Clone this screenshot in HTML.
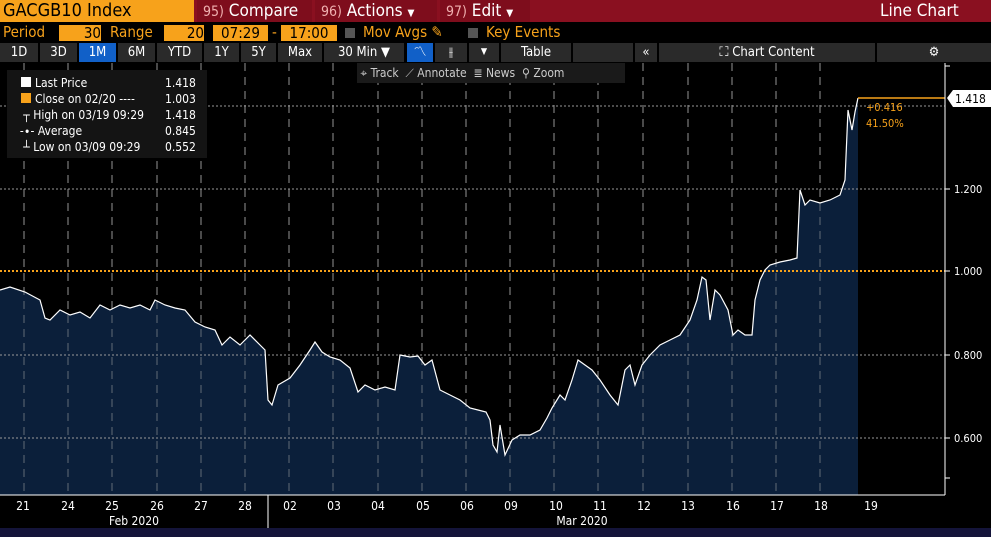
<!DOCTYPE html>
<html><head><meta charset="utf-8"><style>
body{margin:0;background:#000;width:991px;height:537px;overflow:hidden;font-family:"DejaVu Sans Condensed","Liberation Sans",sans-serif;position:relative}
.a{position:absolute;white-space:nowrap}
.r1{top:0;height:22px;background:#8a1020;left:0;width:991px}
.bt{top:0;height:22px;background:#7e0d1c;color:#fff;font-size:17px;line-height:22px}
.bt b{font-weight:normal;color:#f0b0b0;font-size:14px}
.o{background:#f7a21b;color:#000}
.tb{top:43px;height:19px;background:#2a2a2a;color:#fff;font-size:13px;line-height:19px;text-align:center}
.lg{color:#fff;font-size:12px}
</style></head><body>
<div class="a r1"></div>
<div class="a o" style="left:0;top:0;width:194px;height:22px;font-size:18px;line-height:22px;padding-left:3px;box-sizing:border-box">GACGB10 Index</div>
<div class="a bt" style="left:197px;width:115px;padding-left:6px;box-sizing:border-box"><b>95)</b> Compare</div>
<div class="a bt" style="left:315px;width:122px;padding-left:6px;box-sizing:border-box"><b>96)</b> Actions <span style="font-size:10px">▼</span></div>
<div class="a bt" style="left:440px;width:90px;padding-left:6px;box-sizing:border-box"><b>97)</b> Edit <span style="font-size:10px">▼</span></div>
<div class="a" style="left:880px;top:0;color:#fff;font-size:17px;line-height:22px">Line Chart</div>
<div class="a" style="top:23px;left:3px;color:#f7a21b;font-size:15px;line-height:19px">Period</div>
<div class="a o" style="top:25px;left:59px;width:42px;height:16px;font-size:15px;line-height:16px;text-align:right">30</div>
<div class="a" style="top:23px;left:110px;color:#f7a21b;font-size:15px;line-height:19px">Range</div>
<div class="a o" style="top:25px;left:164px;width:40px;height:16px;font-size:15px;line-height:16px;text-align:right">20</div>
<div class="a o" style="top:25px;left:213px;width:55px;height:16px;font-size:15px;line-height:16px;text-align:center">07:29</div>
<div class="a" style="top:23px;left:272px;color:#f7a21b;font-size:15px">-</div>
<div class="a o" style="top:25px;left:281px;width:56px;height:16px;font-size:15px;line-height:16px;text-align:center">17:00</div>
<div class="a" style="top:28px;left:345px;width:10px;height:10px;background:#555"></div>
<div class="a" style="top:23px;left:363px;color:#f7a21b;font-size:15px;line-height:19px">Mov Avgs ✎</div>
<div class="a" style="top:28px;left:468px;width:10px;height:10px;background:#555"></div>
<div class="a" style="top:23px;left:486px;color:#f7a21b;font-size:15px;line-height:19px">Key Events</div>
<div class="a tb" style="left:0;width:38px">1D</div>
<div class="a tb" style="left:40px;width:37px">3D</div>
<div class="a tb" style="left:79px;width:37px;background:#1160c8">1M</div>
<div class="a tb" style="left:118px;width:37px">6M</div>
<div class="a tb" style="left:157px;width:45px">YTD</div>
<div class="a tb" style="left:204px;width:35px">1Y</div>
<div class="a tb" style="left:241px;width:35px">5Y</div>
<div class="a tb" style="left:278px;width:44px">Max</div>
<div class="a tb" style="left:324px;width:80px">30 Min ▼</div>
<div class="a tb" style="left:407px;width:26px;background:#1160c8">〽</div>
<div class="a tb" style="left:435px;width:32px">⫲</div>
<div class="a tb" style="left:469px;width:30px;font-size:9px">▼</div>
<div class="a tb" style="left:501px;width:70px">Table</div>
<div class="a tb" style="left:573px;width:60px"></div>
<div class="a tb" style="left:635px;width:22px">«</div>
<div class="a tb" style="left:659px;width:216px">⛶ Chart Content</div>
<div class="a tb" style="left:877px;width:114px">⚙</div>
<svg class="a" style="left:0;top:63px" width="991" height="474">
<g stroke="#aaa" stroke-dasharray="8,6" stroke-width="1" opacity=".7">
<line x1="24" y1="0" x2="24" y2="432"/><line x1="68" y1="0" x2="68" y2="432"/><line x1="112" y1="0" x2="112" y2="432"/><line x1="157" y1="0" x2="157" y2="432"/><line x1="201" y1="0" x2="201" y2="432"/><line x1="245" y1="0" x2="245" y2="432"/><line x1="289" y1="0" x2="289" y2="432"/><line x1="333" y1="0" x2="333" y2="432"/><line x1="378" y1="0" x2="378" y2="432"/><line x1="422" y1="0" x2="422" y2="432"/><line x1="466" y1="0" x2="466" y2="432"/><line x1="510" y1="0" x2="510" y2="432"/><line x1="554" y1="0" x2="554" y2="432"/><line x1="598" y1="0" x2="598" y2="432"/><line x1="643" y1="0" x2="643" y2="432"/><line x1="688" y1="0" x2="688" y2="432"/><line x1="732" y1="0" x2="732" y2="432"/><line x1="776" y1="0" x2="776" y2="432"/><line x1="820" y1="0" x2="820" y2="432"/>
</g>
<g transform="translate(0,-63)">
<polygon fill="#0b1f3a" points="0,495 0,290 10,287 25,292 40,300 45,318 50,320 60,310 70,315 80,312 90,318 100,305 110,310 120,305 130,308 140,305 150,310 155,300 165,305 175,308 185,310 195,322 205,327 215,330 222,345 230,337 240,345 250,335 260,345 265,350 268,400 272,405 278,385 290,378 300,365 310,350 315,342 322,352 330,357 340,360 350,368 358,392 365,385 375,390 385,387 395,390 400,355 410,357 418,356 425,365 432,360 440,390 450,395 460,400 470,408 478,410 486,412 490,420 493,445 497,452 500,425 505,455 512,440 520,435 530,435 540,430 547,418 552,408 560,395 565,400 572,380 578,360 585,365 592,370 600,380 610,395 618,405 622,385 625,370 630,365 635,385 642,365 650,355 660,345 670,340 680,335 690,320 697,300 702,277 706,280 710,320 715,290 720,295 728,310 733,335 738,330 745,335 752,335 755,300 760,280 765,270 770,265 780,262 790,260 797,258 800,190 805,205 810,200 820,203 830,200 840,195 845,180 848,110 852,130 855,112 858,98 858,495"/>
<g stroke="#aaa" stroke-dasharray="8,6" opacity=".55"><line x1="24" y1="63" x2="24" y2="495"/><line x1="68" y1="63" x2="68" y2="495"/><line x1="112" y1="63" x2="112" y2="495"/><line x1="157" y1="63" x2="157" y2="495"/><line x1="201" y1="63" x2="201" y2="495"/><line x1="245" y1="63" x2="245" y2="495"/><line x1="289" y1="63" x2="289" y2="495"/><line x1="333" y1="63" x2="333" y2="495"/><line x1="378" y1="63" x2="378" y2="495"/><line x1="422" y1="63" x2="422" y2="495"/><line x1="466" y1="63" x2="466" y2="495"/><line x1="510" y1="63" x2="510" y2="495"/><line x1="554" y1="63" x2="554" y2="495"/><line x1="598" y1="63" x2="598" y2="495"/><line x1="643" y1="63" x2="643" y2="495"/><line x1="688" y1="63" x2="688" y2="495"/><line x1="732" y1="63" x2="732" y2="495"/><line x1="776" y1="63" x2="776" y2="495"/><line x1="820" y1="63" x2="820" y2="495"/></g>
<g stroke="#999" stroke-dasharray="2,2"><line x1="0" y1="106" x2="945" y2="106"/><line x1="0" y1="189" x2="945" y2="189"/><line x1="0" y1="355" x2="945" y2="355"/><line x1="0" y1="438" x2="945" y2="438"/></g>
<line x1="0" y1="271" x2="945" y2="271" stroke="#f7a21b" stroke-width="2" stroke-dasharray="2,2"/>
<polyline fill="none" stroke="#fff" stroke-width="1.2" points="0,290 10,287 25,292 40,300 45,318 50,320 60,310 70,315 80,312 90,318 100,305 110,310 120,305 130,308 140,305 150,310 155,300 165,305 175,308 185,310 195,322 205,327 215,330 222,345 230,337 240,345 250,335 260,345 265,350 268,400 272,405 278,385 290,378 300,365 310,350 315,342 322,352 330,357 340,360 350,368 358,392 365,385 375,390 385,387 395,390 400,355 410,357 418,356 425,365 432,360 440,390 450,395 460,400 470,408 478,410 486,412 490,420 493,445 497,452 500,425 505,455 512,440 520,435 530,435 540,430 547,418 552,408 560,395 565,400 572,380 578,360 585,365 592,370 600,380 610,395 618,405 622,385 625,370 630,365 635,385 642,365 650,355 660,345 670,340 680,335 690,320 697,300 702,277 706,280 710,320 715,290 720,295 728,310 733,335 738,330 745,335 752,335 755,300 760,280 765,270 770,265 780,262 790,260 797,258 800,190 805,205 810,200 820,203 830,200 840,195 845,180 848,110 852,130 855,112 858,98"/>
<line x1="858" y1="98" x2="945" y2="98" stroke="#f7a21b" stroke-width="1.5"/>
<line x1="945" y1="63" x2="945" y2="495" stroke="#fff"/>
<line x1="0" y1="495" x2="945" y2="495" stroke="#fff"/>
<line x1="268" y1="495" x2="268" y2="528" stroke="#fff"/>
<g stroke="#fff"><line x1="945" y1="189" x2="950" y2="189"/><line x1="945" y1="271" x2="950" y2="271"/><line x1="945" y1="355" x2="950" y2="355"/><line x1="945" y1="438" x2="950" y2="438"/><line x1="945" y1="478" x2="950" y2="478"/><line x1="945" y1="66" x2="950" y2="66"/></g>
<g fill="#fff" font-size="11" font-family="DejaVu Sans Condensed,Liberation Sans,sans-serif">
<text x="954" y="193">1.200</text><text x="954" y="275">1.000</text><text x="954" y="359">0.800</text><text x="954" y="442">0.600</text>
</g>
<polygon points="947,98 953,90 991,90 991,107 953,107" fill="#fff"/>
<text x="955" y="103" font-size="12" fill="#000" font-family="DejaVu Sans Condensed,sans-serif">1.418</text>
<text x="866" y="111" font-size="11" fill="#f7a21b" font-family="DejaVu Sans Condensed,sans-serif">+0.416</text>
<text x="866" y="127" font-size="11" fill="#f7a21b" font-family="DejaVu Sans Condensed,sans-serif">41.50%</text>
<g fill="#fff" font-size="12" text-anchor="middle" font-family="DejaVu Sans Condensed,Liberation Sans,sans-serif">
<text x="23" y="510">21</text><text x="68" y="510">24</text><text x="112" y="510">25</text><text x="157" y="510">26</text><text x="201" y="510">27</text><text x="245" y="510">28</text><text x="290" y="510">02</text><text x="334" y="510">03</text><text x="378" y="510">04</text><text x="423" y="510">05</text><text x="467" y="510">06</text><text x="511" y="510">09</text><text x="556" y="510">10</text><text x="600" y="510">11</text><text x="644" y="510">12</text><text x="688" y="510">13</text><text x="733" y="510">16</text><text x="777" y="510">17</text><text x="821" y="510">18</text><text x="871" y="510">19</text>
<text x="134" y="525">Feb 2020</text><text x="582" y="525">Mar 2020</text>
</g>
</g>
</svg>
<div class="a" style="left:0;top:528px;width:991px;height:9px;background:#14143a"></div>
<div class="a" style="left:357px;top:63px;width:268px;height:20px;background:#1a1a1a;color:#ccc;font-size:12px;line-height:20px">&nbsp;⌖ Track &nbsp;⟋ Annotate &nbsp;≣ News &nbsp;⚲ Zoom</div>
<div class="a" style="left:7px;top:70px;width:200px;height:88px;background:#141414"></div>
<div class="a lg" style="left:13px;top:75px;line-height:16px">
<div><span style="display:inline-block;width:10px;height:10px;background:#fff;margin:0 4px 0 8px"></span>Last Price</div>
<div><span style="display:inline-block;width:10px;height:10px;background:#f7a21b;margin:0 4px 0 8px"></span>Close on 02/20 ---- </div>
<div>&nbsp;&nbsp;&nbsp;┬ High on 03/19 09:29</div>
<div>&nbsp;&nbsp;-∙- Average</div>
<div>&nbsp;&nbsp;&nbsp;┴ Low on 03/09 09:29</div>
</div>
<div class="a lg" style="left:165px;top:75px;line-height:16px"><div>1.418</div><div>1.003</div><div>1.418</div><div>0.845</div><div>0.552</div></div>
</body></html>
